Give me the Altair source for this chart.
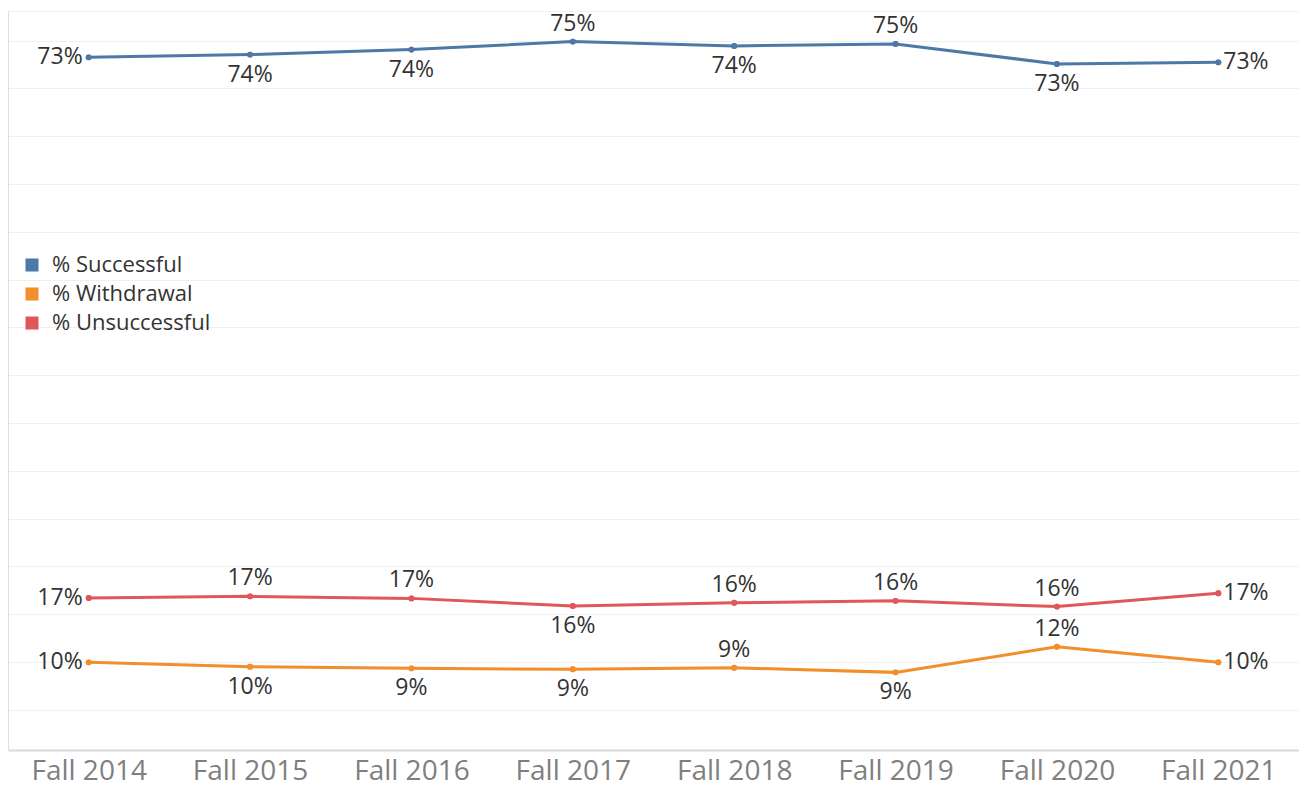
import altair as alt
import pandas as pd

years = ["Fall 2014", "Fall 2015", "Fall 2016", "Fall 2017",
         "Fall 2018", "Fall 2019", "Fall 2020", "Fall 2021"]
series_names = ["% Successful", "% Withdrawal", "% Unsuccessful"]
series_colors = ["#4e79a7", "#f28e2b", "#e15759"]

successful = [73.25, 73.54, 74.06, 74.90, 74.45, 74.66, 72.56, 72.73]
withdrawal = [9.97, 9.52, 9.34, 9.24, 9.40, 8.92, 11.60, 9.97]
unsuccessful = [16.70, 16.87, 16.66, 15.87, 16.20, 16.40, 15.80, 17.20]

# label placement relative to each point
successful_pos = ["left", "below", "below", "above", "below", "above", "below", "right"]
withdrawal_pos = ["left", "below", "below", "below", "above", "below", "above", "right"]
unsuccessful_pos = ["left", "above", "above", "below", "above", "above", "above", "right"]

rows = []
for name, vals, poss in [("% Successful", successful, successful_pos),
                         ("% Withdrawal", withdrawal, withdrawal_pos),
                         ("% Unsuccessful", unsuccessful, unsuccessful_pos)]:
    for y, v, p in zip(years, vals, poss):
        rows.append({"year": y, "series": name, "value": v, "pos": p,
                     "label": f"{round(v)}%"})
df = pd.DataFrame(rows)

FONT = "Open Sans"
y_top = 78.1
y_bottom = 0.8
grid_vals = [5, 10, 15, 20, 25, 30, 35, 40, 45, 50, 55, 60, 65, 70, 75, y_top]

x_enc = alt.X("year:N", sort=years,
              scale=alt.Scale(type="point", padding=0.5),
              axis=alt.Axis(title=None, labelAngle=0, labelFontSize=28,
                            labelColor="#7f7f7f", labelFont=FONT,
                            ticks=False, labelPadding=7,
                            domain=True, domainColor="#d9d9d9", domainWidth=2,
                            grid=False))
y_enc = alt.Y("value:Q",
              scale=alt.Scale(domain=[y_bottom, y_top], nice=False, zero=False),
              axis=alt.Axis(title=None, labels=False, ticks=False,
                            values=grid_vals, grid=True, gridColor="#f0f0f0",
                            gridWidth=1, domain=True, domainColor="#dedede"))

color_scale = alt.Scale(domain=series_names, range=series_colors)
legend = alt.Legend(title=None, orient="none", legendX=13, legendY=243,
                    symbolType="square", symbolSize=170,
                    symbolStrokeWidth=0, symbolOpacity=1,
                    labelFontSize=22, labelFont=FONT,
                    labelColor="#333333", rowPadding=7,
                    labelOffset=9, padding=0)

base = alt.Chart(df)

points = base.mark_point(filled=True, size=35, opacity=1).encode(
    x=x_enc, y=y_enc,
    color=alt.Color("series:N", scale=color_scale, sort=series_names,
                    legend=legend),
)

lines = base.mark_line(strokeWidth=3).encode(
    x=alt.X("year:N", sort=years), y="value:Q",
    color=alt.Color("series:N", scale=color_scale, sort=series_names,
                    legend=legend),
)

def text_layer(pos, **kw):
    return base.transform_filter(alt.datum.pos == pos).mark_text(
        fontSize=23, font=FONT, color="#333333", **kw
    ).encode(x=alt.X("year:N", sort=years), y="value:Q", text="label:N")

labels_above = text_layer("above", dy=-18, align="center", baseline="middle")
labels_below = text_layer("below", dy=20, align="center", baseline="middle")
labels_left = text_layer("left", dx=-6, align="right", baseline="middle")
labels_right = text_layer("right", dx=5, align="left", baseline="middle")

chart = alt.layer(points, lines, points, labels_above, labels_below,
                  labels_left, labels_right
                  ).properties(width=1291, height=739,
                               padding={"left": 0, "top": 3, "right": 0, "bottom": 3}
                  ).configure_view(stroke=None)

chart.save("out.html", embed_options={"renderer": "svg", "actions": False})
